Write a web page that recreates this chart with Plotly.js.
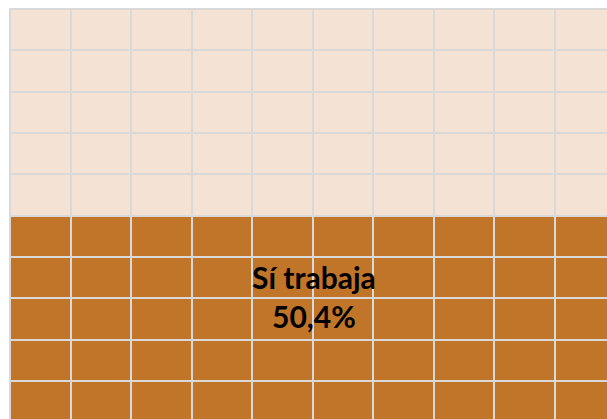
<!DOCTYPE html>
<html>
<head>
<meta charset="utf-8">
<script src="https://cdn.plot.ly/plotly-3.0.1.min.js"></script>
<style>html,body{margin:0;padding:0;background:#fff;}#chart{width:607px;height:419px;}</style>
</head>
<body>
<div id="chart"></div>
<script>
// Data
const categories = ["Sí trabaja", "No trabaja"];
const values = [50.4, 49.6];
const gridRows = 10;
const gridCols = 10;

// Build waffle grid (row 0 at top, filled from bottom)
const cellsYes = Math.round(values[0]);
const z = [];
const text = [];
for (let r = 0; r < gridRows; r++) {
  const row = [], trow = [];
  for (let c = 0; c < gridCols; c++) {
    const k = (gridRows - 1 - r) * gridCols + c;
    const yes = k < cellsYes;
    row.push(yes ? 1 : 0);
    trow.push(yes ? categories[0] : categories[1]);
  }
  z.push(row);
  text.push(trow);
}

const label = "<b>" + categories[0] + "</b><br><b>" +
  values[0].toString().replace(".", ",") + "%</b>";

const pxX = 60.56, pxY = 41.33;
const x0 = -0.5 - 1 / pxX;
const y0 = -0.5 - 1 / pxY;

const trace = {
  type: "heatmap",
  z: z,
  text: text,
  xgap: 2,
  ygap: 2,
  zmin: 0, zmax: 1,
  colorscale: [[0, "#F4E2D4"], [1, "#C07529"]],
  showscale: false,
  hoverinfo: "skip"
};

const layout = {
  width: 607,
  height: 419,
  margin: {l: 9, r: 0, t: 8, b: 0, pad: 0},
  paper_bgcolor: "#ffffff",
  plot_bgcolor: "#D9D9D9",
  showlegend: false,
  xaxis: {range: [x0, x0 + 598 / pxX], showgrid: false, zeroline: false, showticklabels: false, ticks: "", fixedrange: true},
  yaxis: {range: [y0 + 411 / pxY, y0], showgrid: false, zeroline: false, showticklabels: false, ticks: "", fixedrange: true},
  annotations: [{
    x: 4.52, y: 6.45, xref: "x", yref: "y",
    text: label, showarrow: false,
    font: {family: "Lato, 'Open Sans', sans-serif", size: 30, color: "#000000"},
    align: "center"
  }],
  hovermode: false
};

Plotly.newPlot("chart", [trace], layout, {displayModeBar: false, staticPlot: true});
</script>
</body>
</html>
